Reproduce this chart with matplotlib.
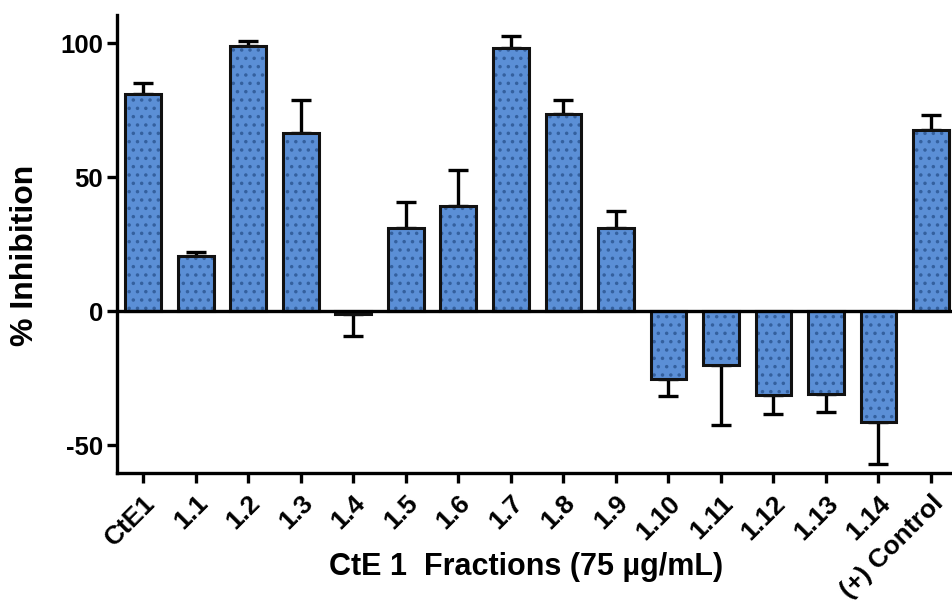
import numpy as np
import matplotlib.pyplot as plt

labels = ['CtE1', '1.1', '1.2', '1.3', '1.4', '1.5', '1.6', '1.7', '1.8', '1.9',
          '1.10', '1.11', '1.12', '1.13', '1.14', '(+) Control']
inhibition = [81.0, 20.6, 98.9, 66.7, -1.0, 31.2, 39.3, 98.3, 73.5, 31.2,
              -25.3, -20.1, -31.2, -31.0, -41.3, 67.8]
error = [4.3, 1.5, 2.1, 12.0, 8.3, 9.6, 13.6, 4.4, 5.2, 6.1,
         6.3, 22.3, 7.1, 6.5, 15.5, 5.6]

plt.rcParams['font.family'] = ['Liberation Sans', 'DejaVu Sans']
plt.rcParams['font.weight'] = 'bold'
plt.rcParams['hatch.linewidth'] = 1.3

x = np.arange(len(labels))
vals = np.array(inhibition)
errs = np.array(error)
# one-sided error bars, pointing away from zero
lower = np.where(vals < 0, errs, 0)
upper = np.where(vals >= 0, errs, 0)

fig = plt.figure(figsize=(9.53, 6.05), dpi=100)
ax = fig.add_axes([0.1228, 0.2182, 0.8772, 0.7568])

ax.errorbar(x, vals, yerr=[lower, upper], fmt='none', ecolor='black',
            elinewidth=2.4, capsize=7, capthick=2.4, zorder=1)
ax.bar(x, vals, width=0.68, color='#5b8fd6', edgecolor='#34609e',
       hatch='..', linewidth=0, zorder=2)
ax.bar(x, vals, width=0.68, fill=False, edgecolor='#111111', linewidth=2.2, zorder=3)
ax.axhline(0, color='black', lw=2.4, zorder=4)

ax.set_xlim(-0.5, 15.42)
ax.set_ylim(-60.3, 110.5)
ax.set_yticks([-50, 0, 50, 100])
ax.set_yticklabels(['-50', '0', '50', '100'], fontsize=18.5, fontweight='bold')
ax.set_xticks(x)
ax.set_xticklabels(labels, rotation=45, ha='right', rotation_mode='anchor',
                   fontsize=19, fontweight='bold')

for s in ['top', 'right']:
    ax.spines[s].set_visible(False)
for s in ['left', 'bottom']:
    ax.spines[s].set_linewidth(2.4)
ax.tick_params(axis='y', width=2.4, length=7, pad=3)
ax.tick_params(axis='x', width=2.4, length=7, pad=6)

ax.set_ylabel('% Inhibition', fontsize=23, fontweight='bold')
ax.yaxis.set_label_coords(-0.092, 0.476)
ax.set_xlabel('CtE 1  Fractions (75 \u00b5g/mL)', fontsize=22, fontweight='bold')
ax.xaxis.set_label_coords(0.489, -0.172)

fig.savefig('out.png', dpi=100)
